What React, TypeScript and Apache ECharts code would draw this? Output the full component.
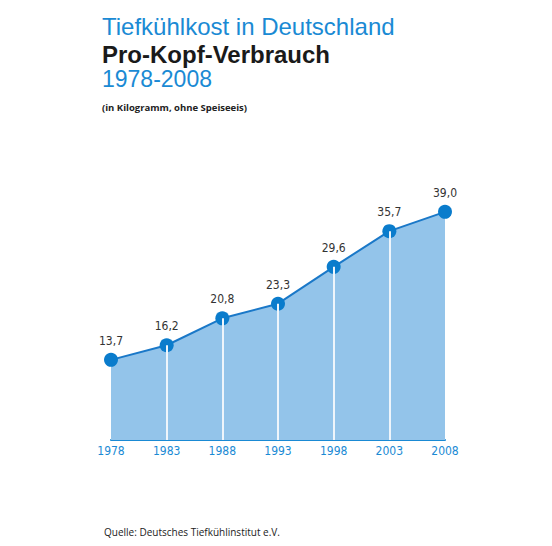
import { useEffect, useRef } from "react"
import * as echarts from "echarts"

const years = ["1978", "1983", "1988", "1993", "1998", "2003", "2008"]
const consumption = [13.7, 16.2, 20.8, 23.3, 29.6, 35.7, 39.0]

const titleLines = ["Tiefkühlkost in Deutschland", "Pro-Kopf-Verbrauch", "1978-2008"]
const unitNote = "(in Kilogramm, ohne Speiseeis)"
const sourceNote = "Quelle: Deutsches Tiefkühlinstitut e.V."

const BLUE = "#1a8ad4"
const DOT = "#0a7ccc"
const FILL = "#93c4ea"
const NARROW = '"DejaVu Sans Condensed", "Liberation Sans Narrow", sans-serif'
const SANS = '"Open Sans", "Noto Sans", sans-serif'
// tighter line metrics for the stacked title
const TITLE = '"Liberation Sans", Arial, sans-serif'

export default function App() {
  const ref = useRef<HTMLDivElement>(null)

  useEffect(() => {
    if (!ref.current) return
    const chart = echarts.init(ref.current, undefined, { renderer: "svg" })

    // white drop lines from each inner point down to the axis
    const dropLines = consumption
      .map((v, i) => [{ coord: [i, 0] }, { coord: [i, v] }])
      .slice(1, -1)

    chart.setOption({
      animation: false,
      grid: { left: 111, right: 107, top: 206, bottom: 106 },
      xAxis: {
        type: "category",
        data: years,
        boundaryGap: false,
        axisLine: { lineStyle: { color: BLUE, width: 2 } },
        axisTick: { show: false },
        axisLabel: {
          color: BLUE,
          fontFamily: NARROW,
          fontSize: 12,
          margin: 5,
        },
      },
      yAxis: { type: "value", min: 0, max: 40, show: false },
      graphic: [
        {
          type: "text",
          left: 102,
          top: 14,
          style: { text: titleLines[0], fill: BLUE, font: `24px ${TITLE}` },
        },
        {
          type: "text",
          left: 102,
          top: 42,
          style: { text: titleLines[1], fill: "#1a1a1a", font: `bold 24px ${TITLE}` },
        },
        {
          type: "text",
          left: 102,
          top: 67,
          style: { text: titleLines[2], fill: BLUE, font: `23px ${TITLE}` },
        },
        {
          type: "text",
          left: 102,
          top: 102,
          style: { text: unitNote, fill: "#222", font: `bold 9.5px ${SANS}` },
        },
        {
          type: "text",
          left: 104,
          top: 527,
          style: { text: sourceNote, fill: "#222", font: `10px ${SANS}` },
        },
      ],
      series: [
        {
          type: "line",
          data: consumption,
          z: 1,
          showSymbol: false,
          lineStyle: { color: "#1a78c8", width: 2 },
          areaStyle: { color: FILL, opacity: 1 },
          silent: true,
        },
        {
          type: "line",
          data: consumption,
          z: 2,
          showSymbol: false,
          lineStyle: { opacity: 0 },
          silent: true,
          markLine: {
            silent: true,
            symbol: "none",
            label: { show: false },
            lineStyle: { color: "#eef5fb", width: 2, type: "solid" },
            data: dropLines,
          },
        },
        {
          type: "scatter",
          data: consumption,
          z: 3,
          symbolSize: 14,
          itemStyle: { color: DOT, opacity: 1 },
          label: {
            show: true,
            position: "top",
            distance: 6,
            color: "#333",
            fontFamily: NARROW,
            fontSize: 12,
            formatter: (p: { value: number }) => p.value.toFixed(1).replace(".", ","),
          },
        },
      ],
    })

    return () => chart.dispose()
  }, [])

  return (
    <div
      ref={ref}
      style={{ position: "absolute", left: 0, top: 0, width: 552, height: 546 }}
    />
  )
}
